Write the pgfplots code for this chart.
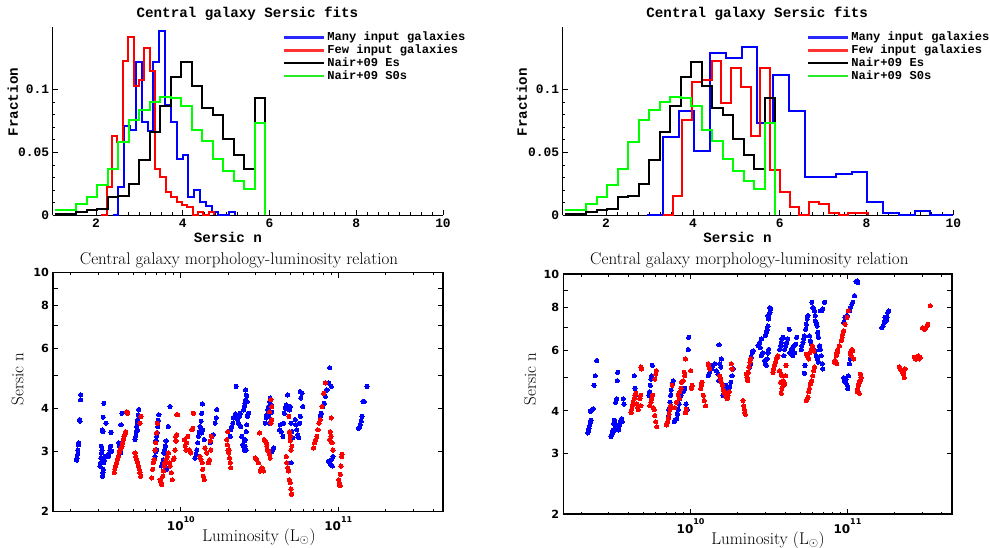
\documentclass[border=0pt]{standalone}
\usepackage{fontspec}
\usepackage{pgfplots}
\pgfplotsset{compat=1.18}
\newfontfamily\cour{Liberation Mono}
\newfontfamily\dvs{DejaVu Sans}
\definecolor{hblue}{RGB}{0,0,255}
\definecolor{hred}{RGB}{255,0,0}
\definecolor{hgreen}{RGB}{0,255,0}
\definecolor{lblue}{RGB}{40,40,255}
\definecolor{lred}{RGB}{255,50,50}
\definecolor{lgreen}{RGB}{40,235,40}
\newcommand\pten[1]{10\raisebox{8.5pt}{\fontsize{8}{8}\selectfont #1}}

\pgfplotsset{
  every axis title shift=0pt,
  histaxis/.style={
    scale only axis, height=188pt, clip=false,
    axis lines*=left, axis line style={line width=0.9pt},
    xmin=1, xmax=10, ymin=0, ymax=0.15,
    xtick={2,4,6,8,10}, xticklabels={2,4,6,8,10}, minor x tick num=7,
    ytick={0,0.05,0.1}, yticklabels={0,0.05,0.1}, minor y tick num=4,
    tick align=inside, major tick length=5pt, minor tick length=2.5pt,
    every tick/.style={line width=0.7pt, black},
    ticklabel style={font=\fontsize{12.9}{13}\selectfont\cour\bfseries},
    title={Central galaxy Sersic fits},
    title style={font=\fontsize{14.2}{15}\selectfont\cour\bfseries, anchor=center},
    xlabel={Sersic n}, ylabel={Fraction},
    label style={font=\fontsize{14.2}{15}\selectfont\cour\bfseries, anchor=center},
    legend cell align=left,
    legend style={draw=none, fill=none, inner sep=0pt, anchor=north west,
      font=\fontsize{12.1}{12}\selectfont\cour\bfseries, row sep=0pt,
      nodes={inner xsep=2pt, inner ysep=0.5pt, text height=9.3pt, text depth=2.6pt}},
  },
  hist/.style={const plot, line width=2pt, no marks},
  key/.style={legend image code/.code={\draw[line width=2.2pt, #1] (0pt,0pt) -- (40pt,0pt);}},
  scataxis/.style={
    scale only axis,
    axis line style={line width=1.6pt},
    xmin=9.188, xmax=11.665, ymin=2, ymax=10,
    xtick={10,11}, xticklabels={\pten{10},\pten{11}},
    minor xtick={9.301,9.477,9.602,9.699,9.778,9.845,9.903,9.954,
      10.301,10.477,10.602,10.699,10.778,10.845,10.903,10.954,
      11.301,11.477,11.602},
    ytick={2,3,4,5,6,7,8,9,10}, yticklabels={2,3,4,,6,,8,,10},
    tick align=inside, major tick length=5pt, minor tick length=2.5pt,
    every tick/.style={line width=1pt, black},
    xticklabel style={font=\fontsize{12}{12}\selectfont\dvs\bfseries, yshift=-1pt},
    yticklabel style={font=\fontsize{11.2}{11}\selectfont\dvs\bfseries, xshift=-0.5pt},
    title={Central galaxy morphology-luminosity relation},
    title style={font=\fontsize{17}{18}\selectfont, anchor=center},
    xlabel={Luminosity (L$_{\odot}$)}, ylabel={Sersic n},
    label style={font=\fontsize{17}{18}\selectfont, anchor=center},
  },
  bdots/.style={only marks, mark=*, mark size=2.1pt, color=hblue, mark options={fill=hblue, draw=hblue, line width=0pt}},
  rdots/.style={only marks, mark=*, mark size=2.1pt, color=hred, mark options={fill=hred, draw=hred, line width=0pt}},
}

\begin{document}
\begin{tikzpicture}[x=1pt,y=1pt]
\useasboundingbox (0,0) rectangle (990,548);

% top left: histograms (an empty first legend row keeps the key lines coloured)
\begin{axis}[histaxis, at={(52.7pt,333pt)}, anchor=south west, width=390.3pt,
  title style={at={(axis description cs:0.499,1.068)}},
  xlabel style={at={(axis description cs:0.449,-0.12)}},
  ylabel style={at={(axis description cs:-0.1025,0.601)}},
  legend style={at={(axis description cs:0.59,1.0476)}}]
\addlegendimage{empty legend}
\addlegendentry{}
\addplot[hist, draw=hblue, key=lblue] coordinates {(2.380,0) (2.515,0.0227) (2.650,0.071) (2.784,0.068) (2.919,0.122) (3.053,0.074) (3.188,0.067) (3.323,0.122) (3.457,0.147) (3.592,0.0875) (3.726,0.074) (3.861,0.045) (3.996,0.048) (4.130,0.0147) (4.265,0.020) (4.399,0.010) (4.534,0.007) (4.669,0.002) (4.803,0) (4.938,0) (5.072,0.002) (5.207,0)};
\addlegendentry{Many input galaxies}
\addplot[hist, draw=hred, key=lred] coordinates {(2.121,0) (2.245,0.0227) (2.369,0.0627) (2.493,0.058) (2.617,0.123) (2.741,0.142) (2.865,0.103) (2.989,0.108) (3.113,0.133) (3.237,0.115) (3.361,0.037) (3.485,0.030) (3.609,0.0187) (3.733,0.0147) (3.857,0.0107) (3.981,0.008) (4.105,0.006) (4.229,0) (4.353,0.0027) (4.477,0) (4.601,0.002) (4.725,0)};
\addlegendentry{Few input galaxies}
\addplot[hist, draw=black, key=black] coordinates {(1.056,0.0005) (1.298,0.001) (1.540,0.002) (1.783,0.004) (2.025,0.0045) (2.267,0.014) (2.509,0.0155) (2.751,0.025) (2.994,0.044) (3.236,0.066) (3.478,0.087) (3.720,0.110) (3.962,0.122) (4.205,0.103) (4.447,0.085) (4.689,0.080) (4.931,0.061) (5.173,0.048) (5.416,0.0365) (5.658,0.093) (5.900,0)};
\addlegendentry{Nair+09 Es}
\addplot[hist, draw=hgreen, key=lgreen] coordinates {(1.056,0.004) (1.298,0.004) (1.540,0.0088) (1.783,0.014) (2.025,0.024) (2.267,0.037) (2.509,0.058) (2.751,0.076) (2.994,0.084) (3.236,0.090) (3.478,0.094) (3.720,0.093) (3.962,0.087) (4.205,0.068) (4.447,0.059) (4.689,0.045) (4.931,0.035) (5.173,0.027) (5.416,0.021) (5.658,0.073) (5.900,0)};
\addlegendentry{Nair+09 S0s}
\end{axis}

% top right: histograms
\begin{axis}[histaxis, at={(562.7pt,333pt)}, anchor=south west, width=390.6pt,
  title style={at={(axis description cs:0.498,1.068)}},
  xlabel style={at={(axis description cs:0.4475,-0.12)}},
  ylabel style={at={(axis description cs:-0.105,0.6)}},
  legend style={at={(axis description cs:0.6255,1.0476)}}]
\addlegendimage{empty legend}
\addlegendentry{}
\addplot[hist, draw=hblue, key=lblue] coordinates {(2.948,0) (3.310,0.062) (3.672,0.0827) (4.035,0.0507) (4.397,0.129) (4.760,0.125) (5.122,0.134) (5.484,0.073) (5.847,0.112) (6.209,0.0827) (6.572,0.0307) (6.934,0.0307) (7.296,0.033) (7.659,0.0347) (8.021,0.0107) (8.384,0.0013) (8.746,0) (9.108,0.0035) (9.470,0) (10,0)};
\addlegendentry{Many input galaxies}
\addplot[hist, draw=hred, key=lred] coordinates {(3.305,0) (3.530,0.0152) (3.755,0.076) (3.980,0.106) (4.205,0.108) (4.430,0.123) (4.655,0.0893) (4.880,0.117) (5.105,0.102) (5.330,0.0627) (5.555,0.117) (5.780,0.036) (6.005,0.0187) (6.230,0.0061) (6.455,0) (6.680,0.0101) (6.905,0.0085) (7.130,0.0013) (7.355,0) (7.580,0.0013) (7.805,0.0013) (8.030,0)};
\addlegendentry{Few input galaxies}
\addplot[hist, draw=black, key=black] coordinates {(1.056,0.0005) (1.298,0.001) (1.540,0.002) (1.783,0.004) (2.025,0.0045) (2.267,0.014) (2.509,0.0155) (2.751,0.025) (2.994,0.044) (3.236,0.066) (3.478,0.087) (3.720,0.110) (3.962,0.122) (4.205,0.103) (4.447,0.085) (4.689,0.080) (4.931,0.061) (5.173,0.048) (5.416,0.0365) (5.658,0.093) (5.900,0)};
\addlegendentry{Nair+09 Es}
\addplot[hist, draw=hgreen, key=lgreen] coordinates {(1.056,0.004) (1.298,0.004) (1.540,0.0088) (1.783,0.014) (2.025,0.024) (2.267,0.037) (2.509,0.058) (2.751,0.076) (2.994,0.084) (3.236,0.090) (3.478,0.094) (3.720,0.093) (3.962,0.087) (4.205,0.068) (4.447,0.059) (4.689,0.045) (4.931,0.035) (5.173,0.027) (5.416,0.021) (5.658,0.073) (5.900,0)};
\addlegendentry{Nair+09 S0s}
\end{axis}

% bottom left: x is log10 of luminosity
\begin{axis}[ymode=log, scataxis, at={(53pt,36.3pt)}, anchor=south west, width=390pt, height=239pt,
  yminorticks=false,
  title style={at={(axis description cs:0.477,1.05)}},
  xlabel style={at={(axis description cs:0.528,-0.106)}},
  ylabel style={at={(axis description cs:-0.091,0.555)}}]
\addplot[bdots] coordinates {
(9.338,2.83)(9.340,2.87)(9.344,2.94)(9.346,3.03)(9.350,3.14)(9.352,3.18)(9.357,3.72)(9.359,3.68)(9.363,4.25)(9.365,4.39)
(9.486,2.72)(9.490,2.78)(9.492,2.87)(9.497,2.97)(9.499,3.03)(9.495,3.11)(9.501,3.47)(9.505,3.43)(9.507,3.78)(9.503,2.54)(9.505,2.60)(9.507,2.66)(9.511,2.78)(9.514,2.83)(9.518,2.90)(9.511,4.15)(9.524,3.63)(9.539,2.90)(9.543,2.95)(9.550,3.03)(9.554,3.11)(9.556,3.41)(9.560,3.00)
(9.607,3.18)(9.609,3.11)(9.613,3.03)(9.617,2.97)(9.620,3.59)(9.626,3.88)
(9.709,3.25)(9.713,3.32)(9.717,3.43)(9.719,3.55)(9.724,3.63)(9.726,3.72)(9.730,3.84)(9.732,3.98)(9.724,3.47)
(9.836,2.90)(9.840,3.00)(9.842,3.22)(9.846,3.32)(9.849,3.40)(9.853,3.55)(9.857,3.70)(9.861,3.84)(9.846,3.03)
(9.878,2.72)(9.885,2.78)(9.889,2.84)(9.893,2.97)(9.897,3.03)(9.902,3.11)(9.906,3.22)(9.910,2.78)(9.921,3.55)(9.931,4.06)(9.899,2.72)(9.904,2.69)(9.910,2.66)
(10.090,2.87)(10.097,2.94)(10.101,3.03)(10.107,3.18)(10.112,3.32)(10.118,3.43)(10.122,3.55)(10.129,3.68)(10.133,3.88)(10.137,4.13)(10.133,3.40)(10.139,3.47)(10.148,3.25)
(10.186,3.18)(10.196,3.32)(10.207,3.36)(10.218,3.63)(10.224,3.76)(10.228,3.98)
(10.313,3.32)(10.317,3.47)(10.324,3.55)(10.330,3.63)(10.334,3.76)(10.341,3.80)(10.347,3.87)(10.351,4.65)(10.355,3.84)(10.360,3.72)(10.366,3.63)(10.372,3.80)(10.377,3.88)(10.381,3.55)(10.387,3.32)(10.394,3.14)(10.398,3.11)(10.402,3.03)(10.408,3.25)(10.415,3.43)(10.419,3.59)(10.423,3.80)(10.398,3.97)(10.404,4.06)(10.408,4.15)(10.413,4.25)(10.419,4.35)(10.411,4.54)(10.415,4.38)(10.421,4.20)(10.430,3.88)(10.408,3.11)(10.415,3.03)(10.404,3.22)
(10.536,3.63)(10.542,3.76)(10.546,3.84)(10.553,3.97)(10.557,4.06)(10.563,4.20)(10.567,4.30)(10.572,4.11)(10.576,3.91)(10.567,2.97)(10.578,3.00)(10.584,3.03)(10.589,3.07)(10.559,3.80)(10.563,3.63)
(10.627,3.47)(10.631,3.59)(10.637,3.43)(10.648,3.32)(10.652,3.63)(10.657,3.88)(10.663,4.01)(10.669,4.10)(10.678,4.39)(10.684,4.06)(10.690,3.97)(10.695,4.06)(10.699,3.63)(10.705,3.43)(10.712,3.29)(10.701,2.78)
(10.726,3.72)(10.731,3.59)(10.737,3.47)(10.743,3.36)(10.748,3.29)(10.754,3.63)(10.758,3.80)(10.762,4.30)(10.769,4.44)(10.775,4.06)(10.758,4.49)
(10.886,3.80)(10.892,3.88)(10.902,4.06)(10.911,4.15)(10.917,4.35)(10.928,4.54)(10.938,4.76)(10.945,5.27)(10.955,4.65)(10.938,2.81)(10.945,2.78)(10.949,2.75)(10.955,2.84)(10.962,2.72)(10.966,2.90)
(11.129,3.51)(11.136,3.55)(11.140,3.59)(11.146,3.68)(11.151,3.80)(11.157,4.20)(11.165,4.20)(11.182,4.65)};
\addplot[rdots] coordinates {
(9.577,2.60)(9.581,2.66)(9.586,2.72)(9.592,2.78)(9.596,2.84)(9.603,2.90)(9.609,2.97)(9.613,3.03)(9.620,3.07)(9.626,3.11)(9.630,3.18)(9.634,3.25)(9.639,3.32)(9.645,3.36)(9.649,3.43)(9.656,3.92)(9.662,3.88)
(9.709,2.97)(9.713,2.90)(9.719,2.84)(9.726,2.78)(9.730,2.72)(9.736,2.66)(9.740,2.60)(9.745,2.54)(9.747,3.80)(9.740,3.63)
(9.815,2.51)(9.821,2.66)(9.825,2.78)(9.830,2.84)(9.836,3.03)(9.840,3.18)(9.846,3.40)(9.851,3.63)
(9.868,2.48)(9.874,2.43)(9.878,2.40)(9.885,2.54)(9.889,2.63)(9.895,2.72)(9.899,2.78)(9.906,2.84)(9.914,2.90)(9.921,2.97)(9.927,2.78)(9.933,2.72)(9.940,2.60)(9.946,2.48)(9.953,2.84)(9.957,2.87)(9.963,3.03)(9.967,3.32)(9.974,3.36)(9.974,3.84)(9.980,3.84)(9.969,3.22)
(10.023,3.25)(10.027,3.11)(10.033,3.03)(10.037,3.18)(10.044,3.32)(10.054,3.03)(10.063,2.97)(10.071,3.47)(10.080,3.88)(10.075,3.51)
(10.122,2.90)(10.128,2.84)(10.135,2.78)(10.139,2.66)(10.143,2.54)(10.148,2.48)(10.154,3.07)(10.165,2.97)(10.175,2.78)(10.182,2.84)(10.190,3.03)(10.194,3.32)(10.186,3.22)
(10.292,3.25)(10.296,3.14)(10.300,3.03)(10.305,2.97)(10.309,2.87)(10.313,2.78)(10.317,2.69)(10.298,3.43)(10.307,3.03)
(10.472,2.87)(10.483,2.84)(10.493,2.78)(10.500,3.40)(10.504,2.63)(10.514,2.69)(10.521,2.66)(10.525,2.63)(10.529,3.25)(10.536,3.22)(10.542,3.18)(10.546,3.11)(10.550,3.03)(10.557,3.00)(10.563,2.94)(10.567,2.87)(10.572,3.63)(10.576,3.72)(10.578,4.06)(10.572,4.25)(10.563,3.92)
(10.669,2.90)(10.673,2.78)(10.678,2.69)(10.684,2.63)(10.688,2.48)(10.695,2.43)(10.699,2.33)(10.703,2.25)(10.695,3.32)(10.690,3.43)(10.686,3.80)(10.695,3.22)(10.699,3.03)(10.705,3.11)
(10.843,3.07)(10.849,3.18)(10.856,3.25)(10.864,3.32)(10.871,3.47)(10.877,3.63)(10.886,3.72)(10.896,4.06)(10.907,4.44)(10.917,4.76)(10.949,3.43)(10.953,3.32)(10.960,3.18)(10.966,3.03)(10.955,3.76)(10.945,3.25)
(11.002,2.48)(11.006,2.43)(11.011,2.38)(11.013,2.57)(11.017,2.72)(11.021,2.90)(11.023,2.94)};
\end{axis}

% bottom right: x is log10 of luminosity
\begin{axis}[ymode=log, scataxis, at={(563.3pt,33.7pt)}, anchor=south west, width=388.4pt, height=240pt,
  yminorticks=false,
  title style={at={(axis description cs:0.479,1.057)}},
  xlabel style={at={(axis description cs:0.527,-0.107)}},
  ylabel style={at={(axis description cs:-0.0857,0.564)}}]
\addplot[bdots] coordinates {
(9.344,3.45)(9.348,3.50)(9.352,3.56)(9.357,3.64)(9.361,3.72)(9.365,3.76)(9.359,3.99)(9.369,4.02)(9.380,4.06)(9.384,4.75)(9.391,5.06)(9.401,5.61)
(9.492,3.37)(9.497,3.41)(9.501,3.45)(9.505,3.52)(9.509,3.68)(9.514,3.76)(9.518,3.56)(9.522,3.52)(9.528,3.64)(9.533,4.90)(9.535,5.18)(9.528,4.34)(9.522,4.24)(9.539,3.52)(9.543,3.60)(9.550,3.68)(9.556,3.76)(9.560,3.80)(9.564,3.72)(9.571,4.34)(9.575,4.19)
(9.641,5.06)(9.645,4.65)(9.649,4.44)(9.734,4.44)(9.738,4.55)(9.743,4.75)(9.747,4.95)(9.751,5.06)(9.755,5.43)
(9.846,3.64)(9.853,3.72)(9.857,3.84)(9.861,4.04)(9.868,4.24)(9.872,4.44)(9.876,4.60)(9.882,4.80)(9.889,4.90)(9.895,3.72)(9.899,3.76)(9.910,3.80)(9.916,3.91)(9.921,4.04)(9.927,4.19)(9.931,4.34)(9.938,4.44)(9.942,4.60)(9.952,4.55)(9.963,4.65)(9.971,4.19)(9.978,4.04)(9.984,6.04)(9.988,6.55)
(10.112,5.06)(10.122,5.18)(10.133,5.30)(10.143,5.43)(10.154,5.49)(10.164,5.24)(10.175,5.12)(10.179,4.90)(10.186,5.49)(10.192,5.37)(10.196,5.67)(10.207,4.44)(10.213,4.55)(10.222,4.65)(10.228,4.75)(10.239,4.44)(10.243,4.60)(10.249,4.70)(10.256,4.85)(10.264,5.06)(10.271,5.30)(10.181,6.23)
(10.377,5.37)(10.383,5.49)(10.387,5.73)(10.393,5.90)(10.398,5.98)(10.430,6.19)(10.440,6.33)(10.451,6.48)(10.444,6.12)(10.451,5.79)(10.461,5.90)(10.472,5.61)(10.476,5.49)(10.483,5.43)(10.489,5.67)(10.493,5.90)(10.497,6.04)(10.476,6.62)(10.483,6.77)(10.489,6.91)(10.493,7.07)(10.499,7.49)(10.506,7.75)(10.510,7.92)(10.493,7.58)(10.497,7.41)(10.504,8.00)
(10.567,6.04)(10.574,6.19)(10.578,6.33)(10.582,6.48)(10.589,6.55)(10.595,5.79)(10.599,6.04)(10.606,6.19)(10.612,6.33)(10.620,6.48)(10.629,6.91)(10.633,5.90)(10.642,6.04)(10.650,6.12)(10.659,6.19)(10.669,6.26)(10.676,6.55)(10.663,5.90)(10.652,5.79)
(10.705,6.04)(10.709,6.19)(10.716,6.33)(10.722,6.48)(10.726,6.62)(10.733,6.91)(10.737,7.15)(10.743,7.41)(10.748,7.58)(10.758,6.62)(10.764,6.41)(10.769,6.26)(10.773,8.29)(10.779,8.00)(10.786,7.92)(10.790,7.83)(10.794,7.58)(10.796,7.32)(10.803,7.15)(10.807,7.07)(10.811,6.77)(10.815,6.55)(10.822,6.19)(10.828,6.04)(10.832,5.79)(10.839,5.49)(10.843,5.30)(10.794,5.98)(10.801,5.79)(10.807,5.67)(10.815,5.55)(10.822,6.04)(10.828,7.83)(10.837,7.83)(10.843,7.92)(10.854,8.29)(10.726,5.15)(10.730,5.43)
(10.977,5.00)(10.981,4.90)(10.987,4.85)(10.992,4.95)(10.998,4.75)(11.002,4.65)(11.006,5.06)(11.013,5.49)(11.019,5.67)(10.977,7.24)(10.985,7.49)(10.998,7.58)(11.013,7.83)(11.019,8.00)(11.028,8.19)(11.034,8.29)(11.045,8.67)(11.055,9.51)(11.062,9.57)(11.066,9.46)
(11.220,6.99)(11.227,7.07)(11.235,7.24)(11.240,7.49)(11.246,7.32)(11.252,7.49)(11.257,7.75)(11.263,7.83)};
\addplot[rdots] coordinates {
(9.620,3.95)(9.624,4.04)(9.628,4.14)(9.634,4.24)(9.641,4.34)(9.645,4.44)(9.649,4.50)(9.656,4.19)(9.662,4.09)(9.666,4.04)(9.677,4.34)(9.681,4.44)(9.683,5.37)(9.687,5.30)(9.683,4.14)(9.670,4.14)
(9.740,4.14)(9.747,4.24)(9.751,4.34)(9.757,4.44)(9.762,4.09)(9.768,4.04)(9.772,3.88)(9.777,3.72)(9.783,3.60)(9.772,4.95)(9.777,5.12)(9.781,5.24)
(9.846,3.64)(9.853,3.72)(9.857,3.80)(9.863,3.91)(9.868,4.04)(9.874,4.14)(9.882,4.75)(9.899,4.09)(9.910,4.24)(9.921,4.44)(9.927,4.34)(9.931,4.55)(9.938,4.65)(9.942,4.85)(9.952,4.90)(9.959,5.18)(9.963,5.06)(9.967,3.95)(9.972,4.04)(9.967,5.67)(10.001,5.24)(10.005,4.65)(10.010,4.75)
(10.065,4.65)(10.069,4.75)(10.073,4.85)(10.080,4.44)(10.086,4.29)(10.095,4.14)(10.112,5.49)(10.116,5.43)(10.122,5.30)
(10.186,5.06)(10.192,4.95)(10.196,4.85)(10.203,4.75)(10.209,4.60)(10.218,4.50)(10.224,4.39)(10.232,4.34)(10.239,4.44)(10.247,4.55)(10.260,5.49)(10.264,5.30)
(10.334,4.29)(10.338,4.14)(10.343,4.04)(10.345,3.95)(10.349,3.91)(10.355,5.12)(10.360,5.00)(10.364,4.90)(10.368,5.18)(10.372,5.37)(10.379,5.55)(10.383,5.67)
(10.525,5.18)(10.531,5.30)(10.535,5.43)(10.542,5.55)(10.546,5.67)(10.553,5.73)(10.557,5.79)(10.567,5.24)(10.578,5.12)(10.582,5.06)(10.591,4.90)(10.599,4.80)(10.606,5.06)(10.574,4.85)(10.582,4.65)(10.578,4.50)(10.591,4.75)(10.608,5.43)
(10.737,5.85)(10.743,5.79)(10.748,5.73)(10.754,5.67)(10.758,5.90)(10.769,6.04)(10.775,6.19)(10.779,6.12)(10.786,5.98)(10.737,4.29)(10.743,4.34)(10.748,4.39)(10.754,4.55)(10.758,4.65)(10.764,4.80)(10.773,4.90)(10.779,5.06)(10.786,5.24)(10.790,5.37)
(10.917,5.55)(10.922,5.61)(10.928,5.79)(10.934,5.90)(10.938,6.04)(10.949,6.19)(10.960,6.41)(10.966,6.55)(10.970,6.70)(10.977,6.84)(10.985,7.15)(10.998,7.49)(11.006,7.83)(10.932,5.49)
(11.019,5.90)(11.023,5.79)(11.028,6.04)(11.034,5.98)(11.040,5.67)(11.062,4.55)(11.066,4.65)(11.070,4.75)(11.076,4.85)(11.081,4.90)(11.087,5.00)(11.083,5.12)(11.076,4.50)(11.072,4.75)
(11.331,5.37)(11.337,5.30)(11.346,5.24)(11.352,5.18)(11.358,5.12)(11.362,5.00)(11.367,5.30)
(11.426,5.73)(11.432,5.67)(11.439,5.67)(11.447,5.73)(11.452,5.79)(11.458,5.67)(11.464,5.73)
(11.479,6.99)(11.490,6.91)(11.500,6.99)(11.507,7.07)(11.511,7.15)(11.528,8.10)};
\end{axis}
\end{tikzpicture}
\end{document}
